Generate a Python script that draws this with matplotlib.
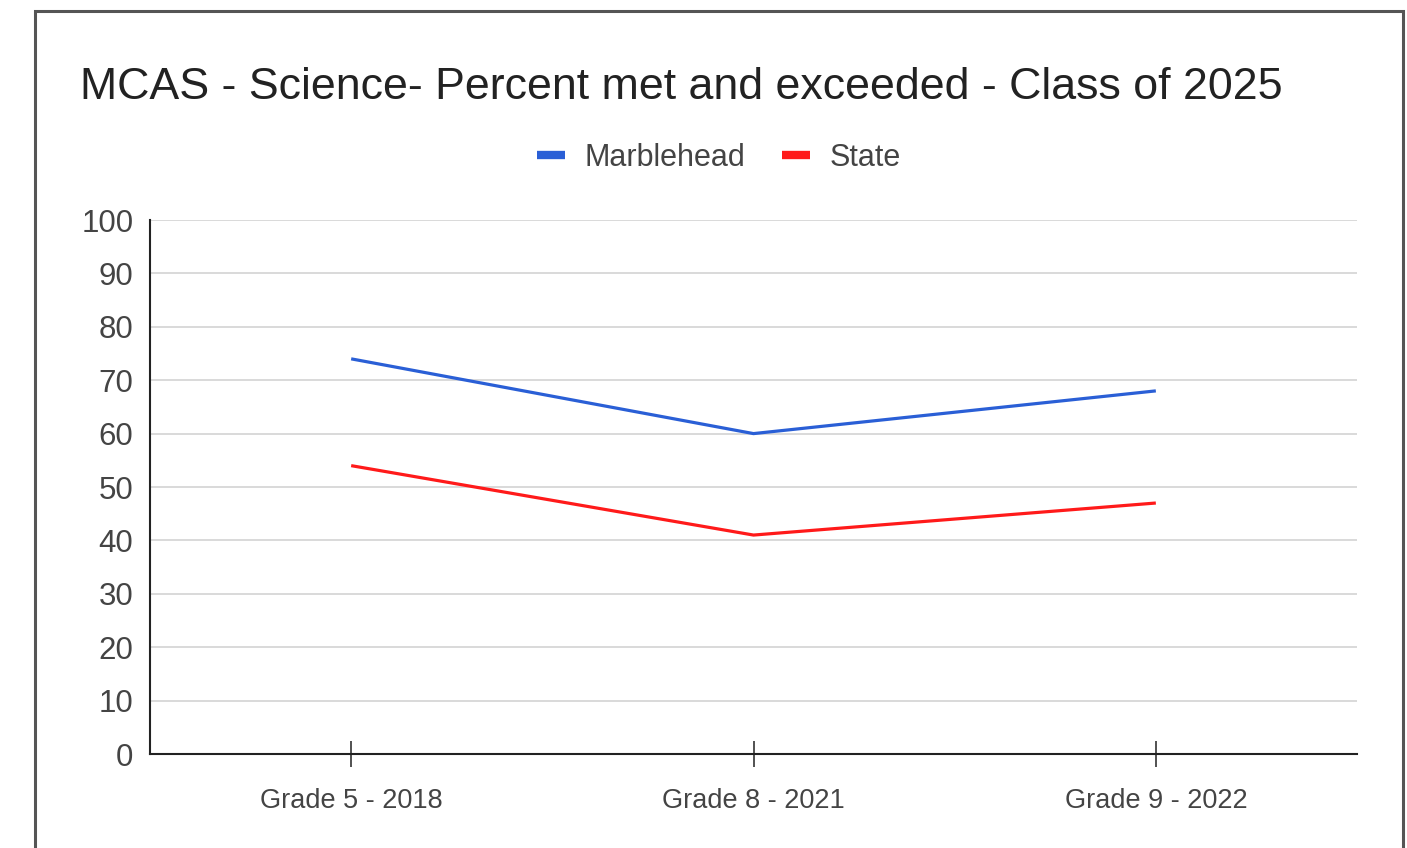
import matplotlib
matplotlib.use("Agg")
import matplotlib.pyplot as plt
from matplotlib.patches import Rectangle

categories = ["Grade 5 - 2018", "Grade 8 - 2021", "Grade 9 - 2022"]
marblehead = [74, 60, 68]
state = [54, 41, 47]
yticks = [0, 10, 20, 30, 40, 50, 60, 70, 80, 90, 100]

plt.rcParams['font.family'] = ['Liberation Sans', 'DejaVu Sans']

W, H = 1407, 848
fig = plt.figure(figsize=(W/100, H/100), dpi=100)
fig.patch.set_facecolor('white')

ax = fig.add_axes([150/W, 1-754/H, (1357-150)/W, (754-220)/H])
x = list(range(len(categories)))
l1, = ax.plot(x, marblehead, color='#2a5fd6', lw=2.3, label='Marblehead', solid_capstyle='butt')
l2, = ax.plot(x, state, color='#ff1a1a', lw=2.3, label='State', solid_capstyle='butt')

ax.set_xlim(-0.5, 2.5)
ax.set_ylim(0, 100)
ax.set_yticks(yticks)
ax.set_xticks(x)
ax.set_xticklabels(categories)
ax.yaxis.grid(True, color='#d0d0d0', lw=1.1)
ax.set_axisbelow(True)
for s in ['top', 'right']:
    ax.spines[s].set_visible(False)
for s in ['left', 'bottom']:
    ax.spines[s].set_color('#222222')
    ax.spines[s].set_linewidth(1.5)
ax.tick_params(axis='y', length=0, pad=12, labelsize=22.5, labelcolor='#444444')
ax.tick_params(axis='x', direction='inout', length=19, width=1.1, color='#222222',
               pad=15, labelsize=19.5, labelcolor='#444444')

fig.text(80/W, 1-99/H, "MCAS - Science- Percent met and exceeded - Class of 2025",
         fontsize=32.2, color='#222222', ha='left', va='baseline')

leg = fig.legend(handles=[l1, l2], loc='center', bbox_to_anchor=(719/W, 1-158/H),
                 ncol=2, frameon=False, fontsize=22, handlelength=0.92,
                 handletextpad=0.65, columnspacing=1.2, labelcolor='#444444')
for h in leg.legend_handles:
    h.set_linewidth(6)

fig.patches.append(Rectangle((35/W, -0.1), (1403-35)/W, 1.1 - 11/H + 0.0,
                             transform=fig.transFigure, fill=False,
                             edgecolor='#555555', lw=2.2))

fig.savefig("out.png", dpi=100)
